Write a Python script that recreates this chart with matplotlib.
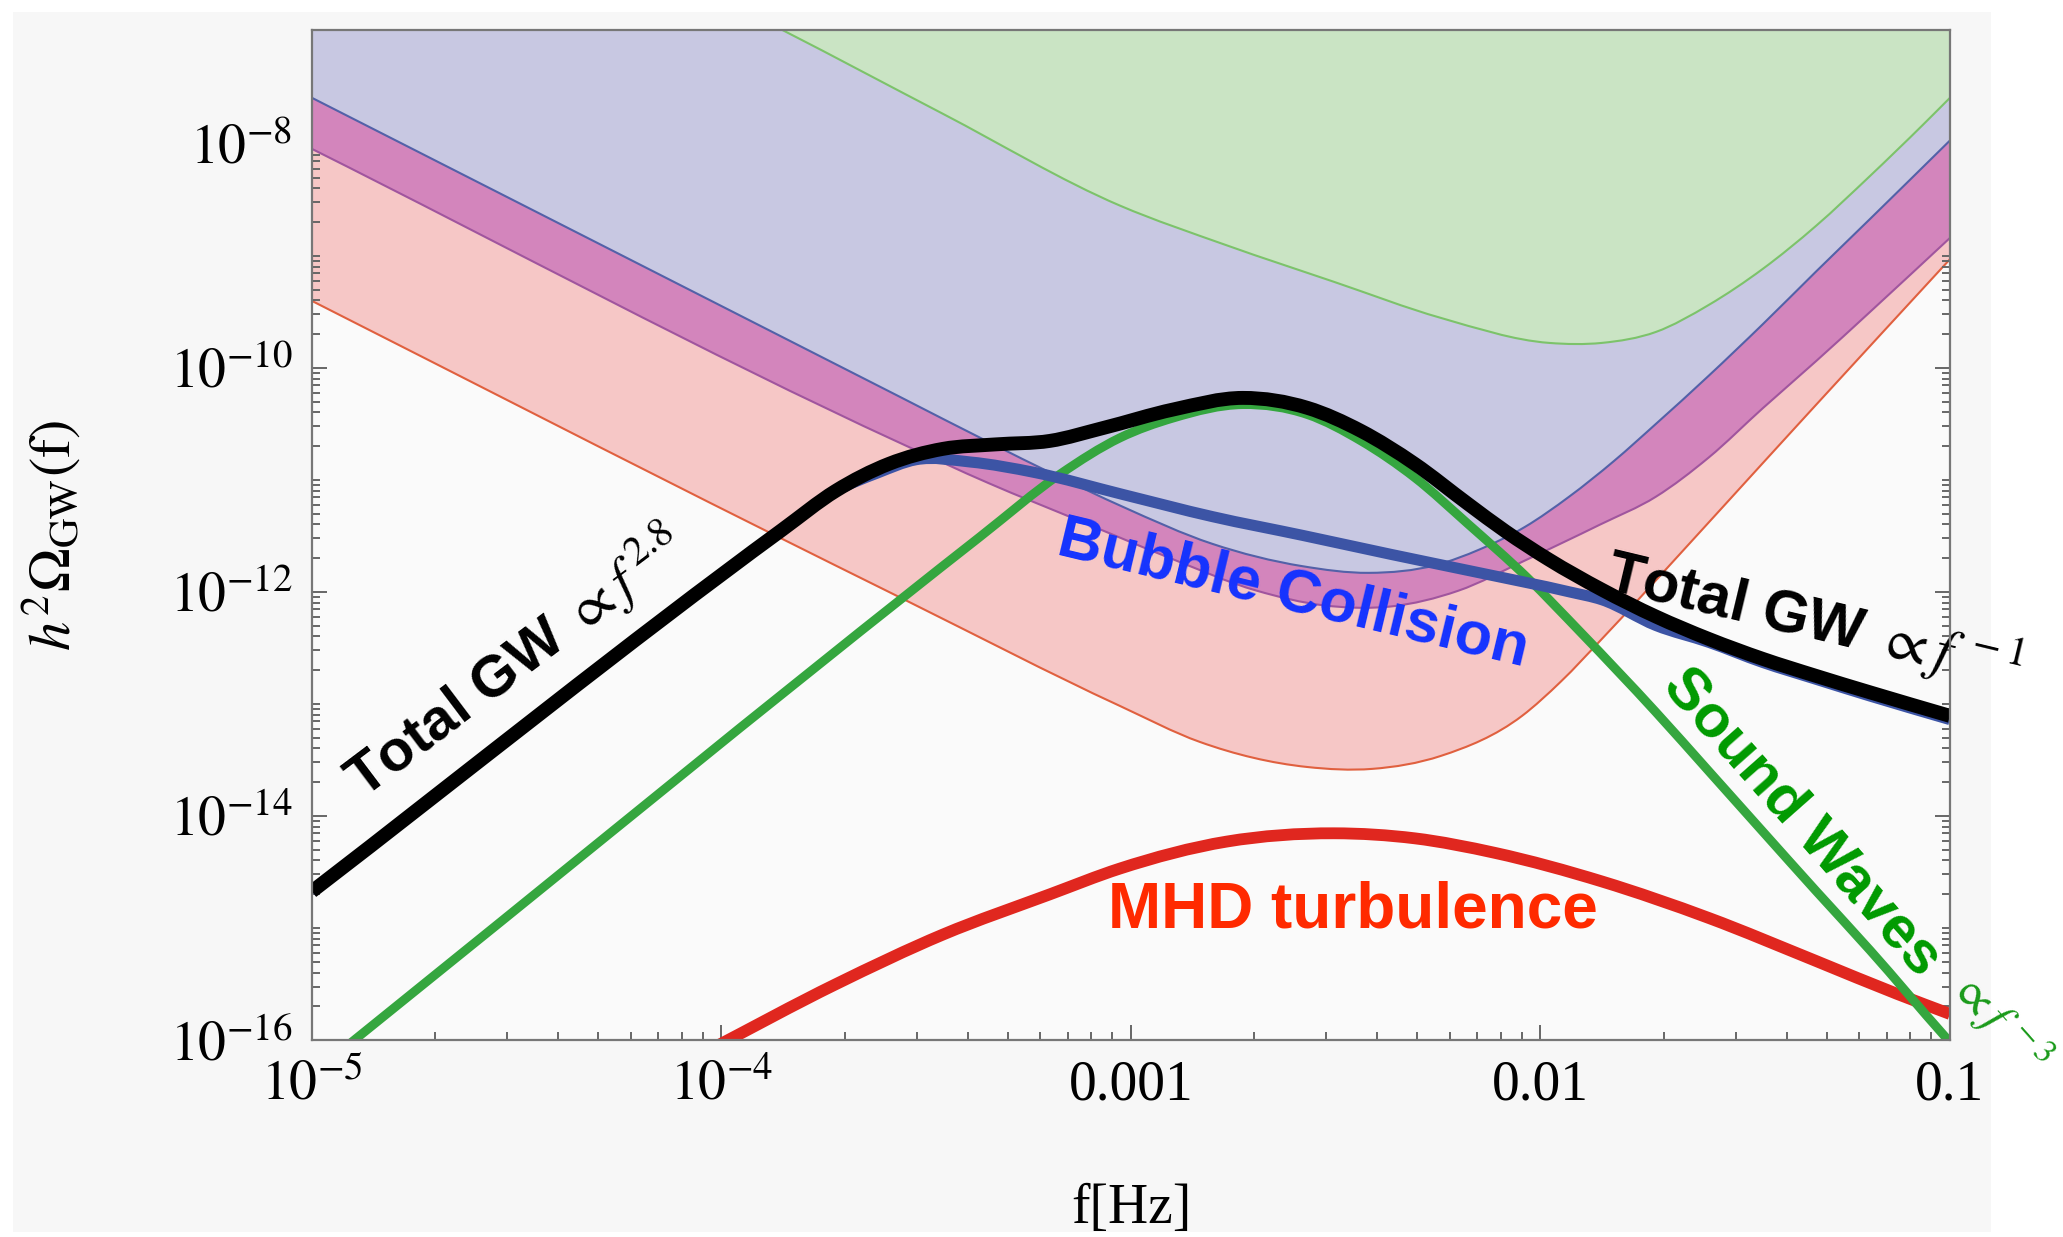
import matplotlib
matplotlib.use("Agg")
import matplotlib.pyplot as plt
import numpy as np
from matplotlib.patches import Rectangle, PathPatch
from matplotlib.path import Path
from matplotlib.ticker import FixedLocator, LogLocator, NullFormatter

plt.rcParams["font.family"] = ["Liberation Sans", "DejaVu Sans"]
plt.rcParams["mathtext.fontset"] = "stix"

# All curves are given as log10(f / Hz) and log10(h^2 Omega_GW).

# detector sensitivity regions (each filled upwards from its curve)
green_sens_logf = [-3.95, -3.852, -3.459, -3.027, -2.766, -2.504, -2.243, -1.979,
                   -1.850, -1.718, -1.589, -1.457, -1.327, -1.195, -1.066, -1.0]
green_sens_logo = [-6.80, -6.982, -7.732, -8.551, -8.906, -9.232, -9.554, -9.777,
                   -9.777, -9.679, -9.438, -9.116, -8.732, -8.286, -7.830, -7.589]

blue_sens_logf = [-5.0, -3.564, -3.347, -3.183, -3.020, -2.802, -2.582, -2.419, -2.255,
                  -2.148, -2.038, -1.930, -1.820, -1.718, -1.589, -1.457, -1.327, -1.195, -1.0]
blue_sens_logo = [-7.589, -10.259, -10.663, -10.96, -11.24, -11.57, -11.77, -11.83, -11.76,
                  -11.62, -11.42, -11.15, -10.83, -10.50, -10.07, -9.61, -9.14, -8.67, -7.97]

magenta_sens_logf = [-5.0, -3.564, -3.347, -3.129, -2.910, -2.692, -2.529, -2.365, -2.201,
                     -2.038, -1.855, -1.718, -1.589, -1.457, -1.327, -1.195, -1.0]
magenta_sens_logo = [-8.045, -10.67, -11.03, -11.36, -11.69, -11.99, -12.12, -12.13, -11.99,
                     -11.72, -11.40, -11.15, -10.80, -10.36, -9.94, -9.50, -8.84]

red_sens_logf = [-5.0, -3.891, -3.552, -3.027, -2.832, -2.570, -2.411, -2.243, -2.045,
                 -1.950, -1.850, -1.654, -1.457, -1.327, -1.0]
red_sens_logo = [-9.402, -11.455, -12.071, -13.018, -13.339, -13.563, -13.580, -13.464, -13.107,
                 -12.80, -12.420, -11.64, -10.85, -10.33, -9.03]

# GW spectra
total_logf = [-5.0, -3.852, -3.721, -3.591, -3.459, -3.330, -3.198, -3.067, -2.896, -2.727,
              -2.569, -2.438, -2.307, -2.177, -2.085, -1.980, -1.850, -1.718, -1.589, -1.457,
              -1.327, -1.195, -1.0]
total_logo = [-14.674, -11.446, -11.098, -10.857, -10.723, -10.683, -10.652, -10.536, -10.371,
              -10.268, -10.357, -10.563, -10.857, -11.214, -11.46, -11.71, -11.98, -12.22,
              -12.42, -12.598, -12.750, -12.897, -13.107]

bubble_logf = [-5.0, -3.852, -3.721, -3.62, -3.525, -3.393, -3.235, -3.02, -2.801, -2.58,
               -2.365, -2.148, -1.929, -1.85, -1.718, -1.589, -1.457, -1.327, -1.195, -1.0]
bubble_logo = [-14.674, -11.446, -11.10, -10.94, -10.82, -10.84, -10.934, -11.13, -11.328, -11.496,
               -11.665, -11.830, -12.00, -12.07, -12.30, -12.45, -12.63, -12.78, -12.93, -13.14]

sound_logf = [-4.93, -3.369, -3.172, -3.027, -2.896, -2.727, -2.569, -2.438, -2.307, -2.177,
              -2.033, -1.902, -1.719, -1.589, -1.457, -1.327, -1.195, -1.012, -0.99]
sound_logo = [-16.10, -11.509, -10.946, -10.625, -10.446, -10.327, -10.416, -10.652, -10.979,
              -11.393, -11.87, -12.36, -13.07, -13.60, -14.14, -14.67, -15.20, -15.97, -16.06]

mhd_logf = [-4.03, -3.721, -3.459, -3.198, -3.027, -2.766, -2.504, -2.307, -2.111,
            -1.850, -1.589, -1.327, -1.129, -1.0]
mhd_logo = [-16.09, -15.503, -15.059, -14.70, -14.47, -14.229, -14.155, -14.200, -14.330,
            -14.585, -14.911, -15.295, -15.589, -15.768]

x_ticks = [1e-5, 1e-4, 1e-3, 1e-2, 1e-1]
x_ticklabels = [r"$10^{-5}$", r"$10^{-4}$", "0.001", "0.01", "0.1"]
y_ticks = [1e-16, 1e-14, 1e-12, 1e-10, 1e-8]
y_ticklabels = [r"$10^{-16}$", r"$10^{-14}$", r"$10^{-12}$", r"$10^{-10}$", r"$10^{-8}$"]

Y_TOP = 1.04e-7
FILL_TOP = 1e-5


def smooth_curve(logf, logo):
    """Cubic Bezier path through the points, smooth in log-log space."""
    x = np.asarray(logf, float)
    y = np.asarray(logo, float)
    h = np.diff(x)
    d = np.diff(y) / h
    m = np.empty_like(y)
    m[0], m[-1] = d[0], d[-1]
    m[1:-1] = (d[:-1] * h[1:] + d[1:] * h[:-1]) / (h[:-1] + h[1:])
    verts = [(x[0], y[0])]
    codes = [Path.MOVETO]
    for i in range(len(h)):
        verts += [(x[i] + h[i] / 3, y[i] + m[i] * h[i] / 3),
                  (x[i + 1] - h[i] / 3, y[i + 1] - m[i + 1] * h[i] / 3),
                  (x[i + 1], y[i + 1])]
        codes += [Path.CURVE4] * 3
    return np.power(10.0, np.array(verts)), codes


def draw_line(ax, logf, logo, color, lw, zorder):
    verts, codes = smooth_curve(logf, logo)
    ax.add_patch(PathPatch(Path(verts, codes), facecolor="none", edgecolor=color, lw=lw,
                           capstyle="butt", joinstyle="round", zorder=zorder))


def draw_region(ax, logf, logo, facecolor, zorder):
    verts, codes = smooth_curve(logf, logo)
    verts = np.vstack([verts, [[verts[-1, 0], FILL_TOP], [verts[0, 0], FILL_TOP], verts[0]]])
    codes = codes + [Path.LINETO, Path.LINETO, Path.CLOSEPOLY]
    ax.add_patch(PathPatch(Path(verts, codes), facecolor=facecolor, edgecolor="none",
                           zorder=zorder))


fig = plt.figure(figsize=(20.63, 12.37), dpi=100)
fig.patch.set_facecolor("white")
fig.patches.append(Rectangle((0.0063, 0.004), 0.959, 0.986, transform=fig.transFigure,
                             facecolor="#f7f7f7", edgecolor="none", zorder=-10))

ax = fig.add_axes([0.1512, 0.1593, 0.7940, 0.8165])
ax.set_facecolor("#fafafa")
ax.set_xscale("log")
ax.set_yscale("log")
ax.set_xlim(1e-5, 1e-1)
ax.set_ylim(1e-16, Y_TOP)

# sensitivity regions, lowest first
sens = [
    (red_sens_logf, red_sens_logo, "#f6c7c6", "#e0603f"),
    (magenta_sens_logf, magenta_sens_logo, "#d385bc", "#a0559e"),
    (blue_sens_logf, blue_sens_logo, "#c8c8e2", "#5361a8"),
    (green_sens_logf, green_sens_logo, "#cae4c4", "#7cc36a"),
]
for i, (lf, lo, fc, ec) in enumerate(sens):
    draw_region(ax, lf, lo, fc, 1 + i)
    draw_line(ax, lf, lo, ec, 1.5, 1.5 + i)

draw_line(ax, mhd_logf, mhd_logo, "#e0271f", 8.5, 6)
draw_line(ax, sound_logf, sound_logo, "#35a63f", 6.5, 7)
draw_line(ax, bubble_logf, bubble_logo, "#3c54a5", 8, 8)
draw_line(ax, total_logf, total_logo, "black", 10, 9)

# labels on the curves
ax.text(0.1245, 0.374, r"Total GW $\propto f^{\,2.8}$", transform=ax.transAxes,
        fontsize=42, fontweight="bold", rotation=37, rotation_mode="anchor",
        ha="center", va="center", zorder=12)
ax.text(0.917, 0.416, r"Total GW $\propto f^{\,-1}$", transform=ax.transAxes,
        fontsize=43, fontweight="bold", rotation=-13.5, rotation_mode="anchor",
        ha="center", va="center", zorder=12, clip_on=False)
ax.text(0.599, 0.4406, "Bubble Collision", transform=ax.transAxes, color="#1533ff",
        fontsize=44, fontweight="bold", rotation=-13.5, rotation_mode="anchor",
        ha="center", va="center", zorder=12)
ax.text(0.6355, 0.1277, "MHD turbulence", transform=ax.transAxes, color="#ff2a00",
        fontsize=46, fontweight="bold", ha="center", va="center", zorder=12)
ax.text(0.9097, 0.2158, "Sound Waves", transform=ax.transAxes, color="#009a00",
        fontsize=43, fontweight="bold", rotation=-48.5, rotation_mode="anchor",
        ha="center", va="center", zorder=12)
ax.text(1.0305, 0.0178, r"$\propto f^{\,-3}$", transform=ax.transAxes, color="#1a9a1a",
        fontsize=35, rotation=-48.5, rotation_mode="anchor",
        ha="center", va="center", zorder=12, clip_on=False)

# axes, ticks and labels
ax.xaxis.set_major_locator(FixedLocator(x_ticks))
ax.xaxis.set_minor_locator(LogLocator(base=10, subs=np.arange(2, 10), numticks=20))
ax.xaxis.set_minor_formatter(NullFormatter())
ax.set_xticklabels(x_ticklabels, fontfamily="Liberation Serif")

ax.yaxis.set_major_locator(FixedLocator(y_ticks))
ax.yaxis.set_minor_locator(LogLocator(base=10, subs=np.arange(1, 10), numticks=40))
ax.yaxis.set_minor_formatter(NullFormatter())
ax.set_yticklabels(y_ticklabels, fontfamily="Liberation Serif")

ax.tick_params(which="both", direction="in", top=True, right=True, colors="#666666",
               labelcolor="black", labelsize=40, width=1.4)
ax.tick_params(which="major", length=11)
ax.tick_params(which="minor", length=6)
ax.tick_params(axis="x", which="major", pad=14)
ax.tick_params(axis="y", which="major", pad=14)

for sp in ax.spines.values():
    sp.set_color("#777777")
    sp.set_linewidth(1.6)
    sp.set_zorder(20)

ax.set_xlabel("f[Hz]", fontsize=40, fontfamily="Liberation Serif")
ax.xaxis.set_label_coords(0.5, -0.1416)
ax.set_ylabel(r"$h^{2}\Omega_{\mathrm{GW}}(\mathrm{f})$", fontsize=42)
ax.yaxis.set_label_coords(-0.140, 0.5)

fig.savefig("out.png", dpi=100, facecolor=fig.get_facecolor())
